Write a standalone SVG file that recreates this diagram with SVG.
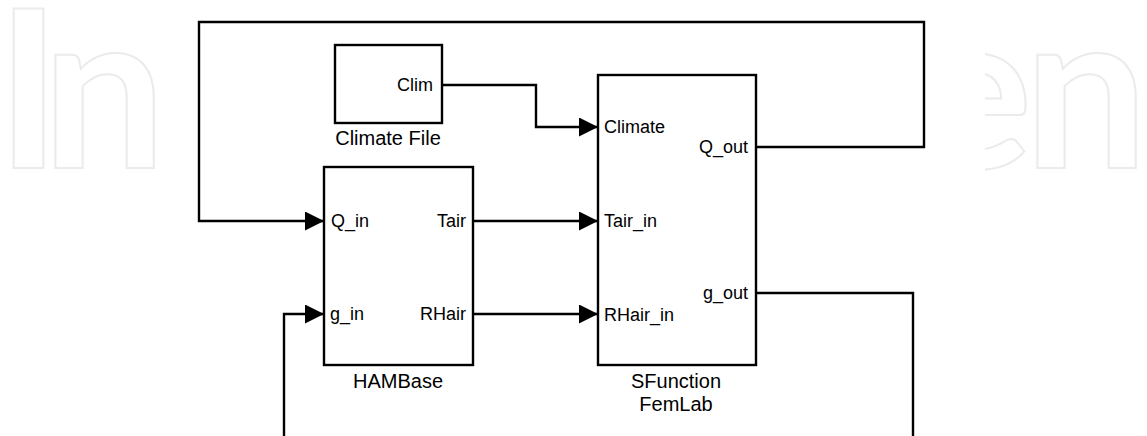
<svg xmlns="http://www.w3.org/2000/svg" width="1147" height="436" viewBox="0 0 1147 436">
<defs>
<style>
.wm{font-family:Lato,"Open Sans",sans-serif;font-size:220px;font-weight:bold;fill:none;stroke:#ebebeb;stroke-width:2;}
.blk{fill:#fff;stroke:#000;stroke-width:2.4;}
.port{font-family:"Liberation Sans",Arial,sans-serif;font-size:18px;fill:#000;}
.name{font-family:"Liberation Sans",Arial,sans-serif;font-size:20px;fill:#000;text-anchor:middle;}
.end{text-anchor:end;}
.wire{fill:none;stroke:#000;stroke-width:2.4;stroke-linejoin:miter;}
</style>
<marker id="arr" markerUnits="userSpaceOnUse" markerWidth="20" markerHeight="20" refX="19" refY="9.5" orient="auto" viewBox="0 0 20 20">
<path d="M0,0 L19,9.5 L0,19 z" fill="#000"/>
</marker>
</defs>
<rect x="0" y="0" width="1147" height="436" fill="#fff"/>
<g id="watermark">
<text class="wm" x="-4" y="168">I</text>
<text class="wm" x="42" y="168">n</text>
<text class="wm" x="915" y="168">e</text>
<text class="wm" x="1024" y="168">n</text>
<rect x="168" y="0" width="817" height="436" fill="#fff"/>
</g>
<g id="connectors">
<path class="wire" d="M756,147 H924 V22 H199 V221 H324" marker-end="url(#arr)"/>
<path class="wire" d="M442,85 H536 V127 H598" marker-end="url(#arr)"/>
<path class="wire" d="M473,221 H598" marker-end="url(#arr)"/>
<path class="wire" d="M473,314 H598" marker-end="url(#arr)"/>
<path class="wire" d="M756,293 H913 V436"/>
<path class="wire" d="M284,436 V314 H324" marker-end="url(#arr)"/>
</g>
<g id="climate-file">
<rect class="blk" x="335" y="45" width="107" height="78"/>
<text class="port end" x="433" y="91">Clim</text>
<text class="name" x="388" y="145">Climate File</text>
</g>
<g id="hambase">
<rect class="blk" x="324" y="167" width="149" height="198"/>
<text class="port" x="331" y="227">Q_in</text>
<text class="port end" x="466" y="227">Tair</text>
<text class="port" x="330" y="320">g_in</text>
<text class="port end" x="466" y="320">RHair</text>
<text class="name" x="398" y="388">HAMBase</text>
</g>
<g id="sfunction">
<rect class="blk" x="598" y="75" width="158" height="290"/>
<text class="port" x="604" y="133">Climate</text>
<text class="port end" x="748" y="153">Q_out</text>
<text class="port" x="604" y="227">Tair_in</text>
<text class="port end" x="748" y="299">g_out</text>
<text class="port" x="604" y="321">RHair_in</text>
<text class="name" x="676" y="388">SFunction</text>
<text class="name" x="676" y="411">FemLab</text>
</g>
</svg>
